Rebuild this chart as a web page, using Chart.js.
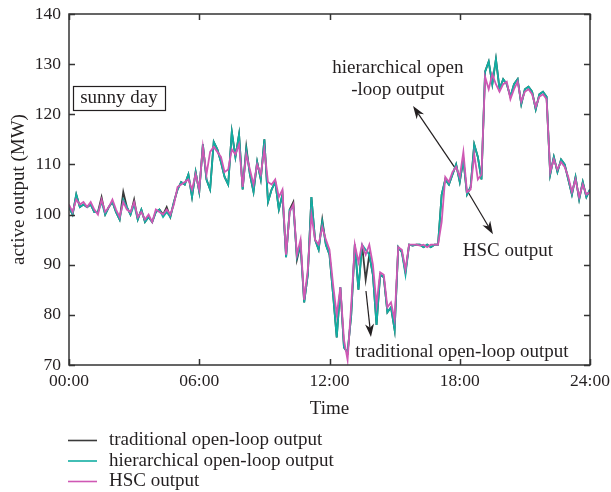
<!DOCTYPE html>
<html>
<head>
<meta charset="utf-8">
<script src="https://cdn.jsdelivr.net/npm/chart.js@4.4.1/dist/chart.umd.min.js"></script>
<style>
  html, body { margin: 0; padding: 0; background: #fff; }
</style>
</head>
<body>
<canvas id="outputChart" width="611" height="492"></canvas>
<script>
// active output on a sunny day, one sample every 10 minutes (00:00 .. 24:00)
const traditional = [
  101.5, 100, 104, 101.5, 102, 101.5, 102, 100.5, 100.5, 103.5,
  100, 101.5, 102.5, 100.5, 99, 104.5, 101.5, 100, 103, 99,
  101, 98.5, 99.5, 98.5, 100.5, 101, 100, 101.5, 99.5, 102.5,
  105, 106.5, 106, 108, 103.5, 108.5, 104.5, 114, 107, 105,
  114.5, 113, 110.5, 107.5, 106, 116.5, 111.5, 116, 105, 113.5,
  108, 104.5, 110.5, 107, 115, 102.5, 105, 106.5, 101, 104,
  91.5, 101, 102.5, 91, 94, 82.5, 88, 103.5, 95, 93,
  99, 94, 92, 84, 75.5, 85.5, 73.5, 72.5, 80, 94,
  85, 94, 87, 92, 88, 78, 88, 87.5, 80.5, 81.5,
  77, 93.5, 92.5, 88.5, 94, 93.8, 94, 94, 93.5, 94,
  93.5, 94, 94, 104, 107, 106, 108, 110, 106.5, 111,
  104, 105.5, 114, 111.5, 107, 128.5, 130.5, 126, 131, 125,
  127, 126, 123.5, 126, 127, 122, 125, 125.5, 124.5, 121,
  124, 124.5, 123.5, 108, 111.5, 108.5, 111, 110, 107, 104,
  107.5, 103, 106.5, 103.5, 105
];
const hierarchical = [
  101.5, 100, 104, 101.5, 102, 101.5, 102, 100.5, 100.5, 102.5,
  100, 101.5, 102.5, 100.5, 99, 103, 101.5, 100, 102, 99,
  101, 98.5, 99.5, 98.5, 100.5, 101, 99.5, 100.5, 99.5, 102.5,
  105, 106.5, 106, 108, 103.5, 108.5, 104.5, 114, 107, 105,
  114.5, 113, 110.5, 107.5, 106, 116.5, 111.5, 116, 105, 113,
  108, 104.5, 110.5, 107, 115, 102.5, 105, 106.5, 101, 104,
  91.5, 101, 101.5, 91.5, 94, 82.5, 88, 103.5, 95, 93,
  98.5, 94, 92, 84, 75.5, 85.5, 73.5, 72.5, 80, 94,
  85, 94, 93, 92, 88, 78, 88, 87.5, 80.5, 81.5,
  77, 93.5, 92.5, 88, 94, 93.8, 94, 94, 93.5, 94,
  93.5, 94, 94, 104, 107, 106, 108, 110, 106.5, 111,
  104, 105.5, 114, 111.5, 107, 128.5, 130.5, 126, 131, 125,
  127, 126, 123.5, 126, 127, 122, 125, 125.5, 124.5, 121,
  124, 124.5, 123.5, 108, 111.5, 108.5, 111, 110, 107, 104,
  107.5, 103, 106.5, 103.5, 105
];
const hsc = [
  102, 100.5, 103, 102, 102.5, 101.5, 102.5, 101, 100, 103,
  100.5, 101.5, 103, 101, 99.5, 102.5, 101, 100.5, 102.5, 99.5,
  100.5, 99, 100, 98.5, 101, 100.5, 100, 101, 100, 102,
  105.5, 106, 106.5, 107, 105, 108, 105, 113.5, 108, 112.5,
  113.5, 112.5, 111.5, 108.5, 109, 113, 112, 114, 105.5, 112,
  109, 106, 110, 108, 113, 106.5, 106, 107, 103.5, 105,
  92, 100.5, 102, 92, 95, 83, 89, 100, 95, 94,
  97.5, 95, 93, 86, 80, 85.5, 75, 71, 82, 94,
  90.5, 94, 92, 94, 90, 82, 88.5, 88, 81.5, 82.5,
  79, 93.5, 93, 89, 94, 94, 94, 93.8, 94, 93.5,
  94, 94, 94, 98.5, 107.5, 106.5, 108.5, 109.5, 107.5, 112.5,
  104.5, 105, 112, 107, 108, 127.5, 125, 128, 126, 124.5,
  126, 126.5, 123, 125, 126.5, 122.5, 124.5, 125, 124, 121.5,
  123.5, 124, 123, 108.5, 111, 109, 110.5, 109.5, 107.5, 104.5,
  107, 103.5, 106, 104, 104.5
];
const seriesNames = ['traditional open-loop output', 'hierarchical open-loop output', 'HSC output'];
const tickHours = [0, 6, 12, 18, 24];
const tickLabels = ['00:00', '06:00', '12:00', '18:00', '24:00'];
const yTicks = [70, 80, 90, 100, 110, 120, 130, 140];

const stepHours = 1 / 6;
const toPoints = arr => arr.map((v, i) => ({ x: i * stepHours, y: v }));

const TEXT = '#231f20';
const FONT = '"Liberation Serif", "Times New Roman", serif';
const LABEL_SIZE = 19;
Chart.defaults.font.family = FONT;
Chart.defaults.font.size = 17.5;
Chart.defaults.color = TEXT;

// text labels and arrows, placed in (hour, MW)
const notes = [
  { lines: ['sunny day'], x: 2.3, y: 123.25, box: true },
  { lines: ['hierarchical open', '-loop output'], x: 15.15, y: 127.0 },
  { lines: ['HSC output'], x: 20.22, y: 92.7 },
  { lines: ['traditional open-loop output'], x: 18.1, y: 72.6 }
];
const arrows = [
  { from: [17.78, 109.3], to: [15.85, 121.65] },
  { from: [18.38, 104.5], to: [19.53, 96.1] },
  { from: [13.68, 84.75], to: [13.91, 75.6] }
];

function drawArrow(ctx, x1, y1, x2, y2) {
  const a = Math.atan2(y2 - y1, x2 - x1);
  const len = 13, half = 4.5;
  ctx.beginPath();
  ctx.moveTo(x1, y1);
  ctx.lineTo(x2 - Math.cos(a) * len * 0.7, y2 - Math.sin(a) * len * 0.7);
  ctx.stroke();
  ctx.save();
  ctx.translate(x2, y2);
  ctx.rotate(a);
  ctx.beginPath();
  ctx.moveTo(0, 0);
  ctx.lineTo(-len, -half);
  ctx.lineTo(-len * 0.7, 0);
  ctx.lineTo(-len, half);
  ctx.closePath();
  ctx.fill();
  ctx.restore();
}

const decorations = {
  id: 'decorations',
  beforeDatasetsDraw(chart) {
    const { ctx, scales: { x, y } } = chart;
    ctx.save();
    ctx.strokeStyle = TEXT;
    ctx.fillStyle = TEXT;
    ctx.lineWidth = 1.2;
    arrows.forEach(a => {
      drawArrow(ctx, x.getPixelForValue(a.from[0]), y.getPixelForValue(a.from[1]),
        x.getPixelForValue(a.to[0]), y.getPixelForValue(a.to[1]));
    });
    ctx.restore();
  },
  afterDatasetsDraw(chart) {
    const { ctx, chartArea: area, scales: { x, y } } = chart;
    ctx.save();
    // frame with inward ticks on every side
    ctx.strokeStyle = '#333';
    ctx.lineWidth = 1.5;
    ctx.strokeRect(area.left, area.top, area.right - area.left, area.bottom - area.top);
    ctx.beginPath();
    yTicks.forEach(v => {
      const py = Math.round(y.getPixelForValue(v)) + 0.5;
      ctx.moveTo(area.left, py); ctx.lineTo(area.left + 6, py);
      ctx.moveTo(area.right, py); ctx.lineTo(area.right - 6, py);
    });
    tickHours.forEach(h => {
      const px = Math.round(x.getPixelForValue(h)) + 0.5;
      ctx.moveTo(px, area.bottom); ctx.lineTo(px, area.bottom - 6);
      ctx.moveTo(px, area.top); ctx.lineTo(px, area.top + 6);
    });
    ctx.stroke();

    // annotations
    ctx.font = LABEL_SIZE + 'px ' + FONT;
    ctx.fillStyle = TEXT;
    ctx.textAlign = 'center';
    ctx.textBaseline = 'middle';
    notes.forEach(n => {
      const cx = x.getPixelForValue(n.x);
      const cy = y.getPixelForValue(n.y);
      const lh = 22;
      const top = cy - (n.lines.length - 1) * lh / 2;
      n.lines.forEach((t, k) => ctx.fillText(t, cx, top + k * lh));
      if (n.box) {
        const w = ctx.measureText(n.lines[0]).width + 14;
        ctx.strokeStyle = TEXT;
        ctx.lineWidth = 1.2;
        ctx.strokeRect(Math.round(cx - w / 2) + 0.5, Math.round(cy - 12) + 0.5, Math.round(w), 24);
      }
    });

    // legend under the axis title
    chart.data.datasets.forEach((ds, k) => {
      const ly = area.bottom + 75.5 + k * 20.5;
      ctx.strokeStyle = ds.borderColor;
      ctx.lineWidth = 1.6;
      ctx.beginPath();
      ctx.moveTo(area.left - 1, ly);
      ctx.lineTo(area.left + 28, ly);
      ctx.stroke();
      ctx.textAlign = 'left';
      ctx.fillStyle = TEXT;
      ctx.fillText(ds.label, area.left + 40, ly);
    });
    ctx.restore();
  }
};

new Chart(document.getElementById('outputChart'), {
  type: 'line',
  data: {
    datasets: [
      { label: seriesNames[0], data: toPoints(traditional), borderColor: '#3a3a3a', order: 3 },
      { label: seriesNames[1], data: toPoints(hierarchical), borderColor: '#12aea3', order: 2 },
      { label: seriesNames[2], data: toPoints(hsc), borderColor: '#cf58b4', order: 1 }
    ]
  },
  options: {
    responsive: false,
    animation: false,
    elements: {
      line: { borderWidth: 1.8, tension: 0 },
      point: { radius: 0 }
    },
    layout: { padding: { top: 14, right: 21, bottom: 69, left: 0 } },
    plugins: {
      legend: { display: false },
      tooltip: { enabled: false }
    },
    scales: {
      x: {
        type: 'linear',
        min: 0,
        max: 24,
        afterBuildTicks: s => { s.ticks = tickHours.map(v => ({ value: v })); },
        afterFit: s => { s.height = 58; s.paddingLeft = 0; s.paddingRight = 0; },
        ticks: { callback: (v, i) => tickLabels[i], padding: 6, maxRotation: 0 },
        grid: { display: false, drawTicks: false },
        border: { display: false },
        title: { display: true, text: 'Time', font: { size: LABEL_SIZE }, padding: { top: 4, bottom: 3 } }
      },
      y: {
        min: 70,
        max: 140,
        afterBuildTicks: s => { s.ticks = yTicks.map(v => ({ value: v })); },
        afterFit: s => { s.width = 69; s.paddingTop = 0; s.paddingBottom = 0; },
        ticks: { padding: 8 },
        grid: { display: false, drawTicks: false },
        border: { display: false },
        title: { display: true, text: 'active output (MW)', font: { size: LABEL_SIZE }, padding: { top: 7.5, bottom: 0 } }
      }
    }
  },
  plugins: [decorations]
});
</script>
</body>
</html>
